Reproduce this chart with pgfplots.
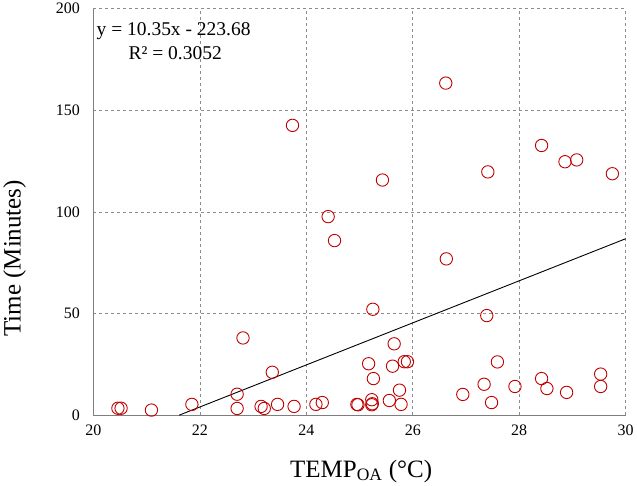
\documentclass[border=0pt]{standalone}
\usepackage{fontspec}
\setmainfont{Liberation Serif}
\usepackage{pgfplots}
\pgfplotsset{compat=1.18}
\definecolor{ptred}{HTML}{C00000}
\definecolor{gridgray}{HTML}{8C8C8C}

\begin{document}
\begin{tikzpicture}
\begin{axis}[
  scale only axis,
  width=533pt, height=407pt,
  xmin=20, xmax=30, ymin=0, ymax=200,
  xtick={20,22,...,30},
  ytick={0,50,...,200},
  /pgf/number format/assume math mode=true,
  ticklabel style={font=\fontsize{16}{19}\selectfont},
  xticklabel style={yshift=-6pt},
  yticklabel style={xshift=-10pt},
  major tick length=0pt,
  grid=major,
  major grid style={gridgray, dashed, line width=0.6pt},
  axis line style={draw=none},
  xlabel={TEMP\textsubscript{OA} (\textdegree C)},
  ylabel={Time (Minutes)},
  label style={font=\fontsize{25}{30}\selectfont},
  xlabel style={at={(axis description cs:0.503,-0.138)}, anchor=center},
  ylabel style={at={(axis description cs:-0.148,0.386)}, anchor=center},
  clip=false,
]
% solid left and bottom axes
\draw[gridgray!90!black, line width=1.2pt] (rel axis cs:0,1) -- (rel axis cs:0,0) -- (rel axis cs:1,0);

\addplot[only marks, mark=o, mark size=6.2pt, draw=ptred, line width=0.9pt] coordinates {
  (23.74,142.6) (26.62,163.4) (25.43,115.7) (27.41,119.7) (28.42,132.7)
  (28.86,124.7) (29.08,125.6) (29.75,118.8)
  (24.41,97.7) (24.53,85.9) (22.81,38.0) (23.36,21.1) (22.70,10.3)
  (22.70,3.3) (21.85,5.3) (21.09,2.5) (20.46,3.4) (20.52,3.4)
  (23.15,4.3) (23.21,3.3) (23.46,5.3) (23.77,4.3) (24.18,5.3) (24.30,6.2)
  (24.95,5.3)
  (25.25,52.1) (26.63,76.9) (27.39,49.0) (25.65,35.1) (25.17,25.3)
  (25.62,24.1) (25.84,26.3) (25.90,26.3) (25.26,18.0) (25.75,12.3)
  (24.97,5.1) (25.23,7.6) (25.23,5.1) (25.24,5.6) (25.56,7.2) (25.78,5.3)
  (27.59,26.2) (27.34,15.2) (26.94,10.2) (27.48,6.2) (27.92,14.1)
  (28.42,18.0) (28.52,13.1) (28.89,11.2) (29.53,20.2) (29.53,14.1)
};
\addplot[black, line width=0.9pt] coordinates {(21.612,0) (30,86.82)};

\node[anchor=base west, inner sep=1pt, font=\fontsize{19.5}{23}\selectfont] at (rel axis cs:0.004,0.935) {y = 10.35x - 223.68};
\node[anchor=base west, inner sep=1pt, font=\fontsize{19.5}{23}\selectfont] at (rel axis cs:0.064,0.876) {R² = 0.3052};
\end{axis}
\end{tikzpicture}
\end{document}
